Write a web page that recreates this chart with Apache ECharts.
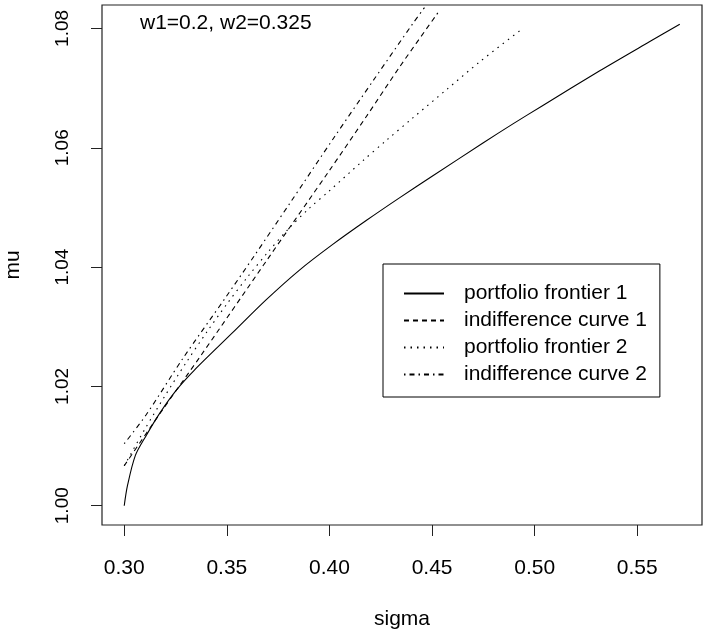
<!DOCTYPE html>
<html>
<head>
<meta charset="utf-8">
<script src="https://cdn.jsdelivr.net/npm/echarts@6/dist/echarts.min.js"></script>
<style>
  html, body { margin: 0; padding: 0; background: #fff; }
  #chart { width: 703px; height: 630px; }
</style>
</head>
<body>
<div id="chart"></div>
<script>
// values (sigma, mu)
const pf1Sigma = [0.300, 0.3016, 0.3054, 0.3106, 0.3171, 0.3252, 0.3341, 0.3528, 0.3691, 0.3854, 0.4016, 0.4179, 0.4341, 0.4504, 0.4748, 0.4894, 0.5040, 0.5317, 0.5561, 0.5707]
const pf1Mu    = [1.000, 1.0034, 1.0084, 1.0117, 1.0154, 1.0193, 1.0227, 1.0290, 1.0345, 1.0395, 1.0438, 1.0478, 1.0516, 1.0553, 1.0608, 1.0640, 1.0671, 1.0729, 1.0778, 1.0807]

const ic1Sigma = [0.300, 0.3171, 0.3374, 0.3694, 0.4000, 0.4179, 0.4341, 0.4528]
const ic1Mu    = [1.0067, 1.0153, 1.0252, 1.0411, 1.0562, 1.0652, 1.0735, 1.0826]

const pf2Sigma = [0.300, 0.310, 0.320, 0.330, 0.340, 0.350, 0.360, 0.370, 0.380, 0.390, 0.400, 0.4162, 0.4276, 0.4406, 0.4569, 0.4732, 0.4935]
const pf2Mu    = [1.0067, 1.0128, 1.0185, 1.0239, 1.0290, 1.0338, 1.0383, 1.0425, 1.0464, 1.0498, 1.0528, 1.0578, 1.0612, 1.0650, 1.0697, 1.0744, 1.0798]

const ic2Sigma = [0.300, 0.3106, 0.3284, 0.3496, 0.3634, 0.3805, 0.4024, 0.4220, 0.4406, 0.4463]
const ic2Mu    = [1.0104, 1.0152, 1.0246, 1.0350, 1.0419, 1.0506, 1.0618, 1.0716, 1.0808, 1.0835]

const seriesNames = ['portfolio frontier 1', 'indifference curve 1', 'portfolio frontier 2', 'indifference curve 2']
const xTicks = [0.30, 0.35, 0.40, 0.45, 0.50, 0.55]
const yTicks = [1.00, 1.02, 1.04, 1.06, 1.08]

const FONT = '"Liberation Sans", Arial, sans-serif'

function zip(xs, ys) {
  return xs.map((x, i) => [x, ys[i]])
}

function lineSeries(name, xs, ys, dash) {
  return {
    name: name,
    type: 'line',
    data: zip(xs, ys),
    symbol: 'none',
    showSymbol: false,
    smooth: 0.3,
    lineStyle: { color: '#000', width: 1.1, type: dash },
    itemStyle: { color: '#000' },
    clip: true
  }
}

const myChart = echarts.init(document.getElementById('chart'))
const option = {
  animation: false,
  backgroundColor: '#fff',
  textStyle: { fontFamily: FONT },
  title: {
    text: 'w1=0.2, w2=0.325',
    left: 140,
    top: 13,
    padding: 0,
    textStyle: { fontSize: 21, fontWeight: 'normal', color: '#000', fontFamily: FONT }
  },
  legend: {
    orient: 'vertical',
    left: 383,
    top: 264,
    padding: [19, 13, 12, 20],
    itemWidth: 40,
    itemHeight: 14,
    itemGap: 6,
    borderColor: '#000',
    borderWidth: 1,
    selectedMode: false,
    itemStyle: { opacity: 0 },
    data: seriesNames,
    textStyle: { fontSize: 21, color: '#000', fontFamily: FONT, padding: [0, 0, 0, 15] }
  },
  grid: {
    left: 102,
    right: 1,
    top: 5,
    bottom: 105,
    outerBoundsMode: 'none',
    containLabel: false,
    show: true,
    borderColor: '#222',
    borderWidth: 1.2
  },
  xAxis: {
    type: 'value',
    min: 0.28917,
    max: 0.58153,
    name: 'sigma',
    nameLocation: 'middle',
    nameGap: 84,
    nameTextStyle: { fontSize: 21, color: '#000', fontFamily: FONT },
    splitLine: { show: false },
    axisLine: { show: false },
    axisTick: { show: true, inside: false, length: 11, lineStyle: { color: '#222' }, customValues: xTicks },
    axisLabel: {
      customValues: xTicks,
      margin: 33,
      fontSize: 21,
      color: '#000',
      fontFamily: FONT,
      formatter: v => v.toFixed(2)
    }
  },
  yAxis: {
    type: 'value',
    min: 0.99677,
    max: 1.08393,
    name: 'mu',
    nameLocation: 'middle',
    nameGap: 78,
    nameTextStyle: { fontSize: 21, color: '#000', fontFamily: FONT },
    splitLine: { show: false },
    axisLine: { show: false },
    axisTick: { show: true, inside: false, length: 11, lineStyle: { color: '#222' }, customValues: yTicks },
    axisLabel: {
      customValues: yTicks,
      rotate: 90,
      margin: 30,
      fontSize: 19,
      color: '#000',
      fontFamily: FONT,
      formatter: v => v.toFixed(2)
    }
  },
  series: [
    lineSeries(seriesNames[0], pf1Sigma, pf1Mu, 'solid'),
    lineSeries(seriesNames[1], ic1Sigma, ic1Mu, [5, 4]),
    lineSeries(seriesNames[2], pf2Sigma, pf2Mu, [1.5, 5]),
    lineSeries(seriesNames[3], ic2Sigma, ic2Mu, [1.5, 4, 5, 4])
  ]
}
myChart.setOption(option)
window.addEventListener('resize', function () {
  myChart.resize()
})
</script>
</body>
</html>
